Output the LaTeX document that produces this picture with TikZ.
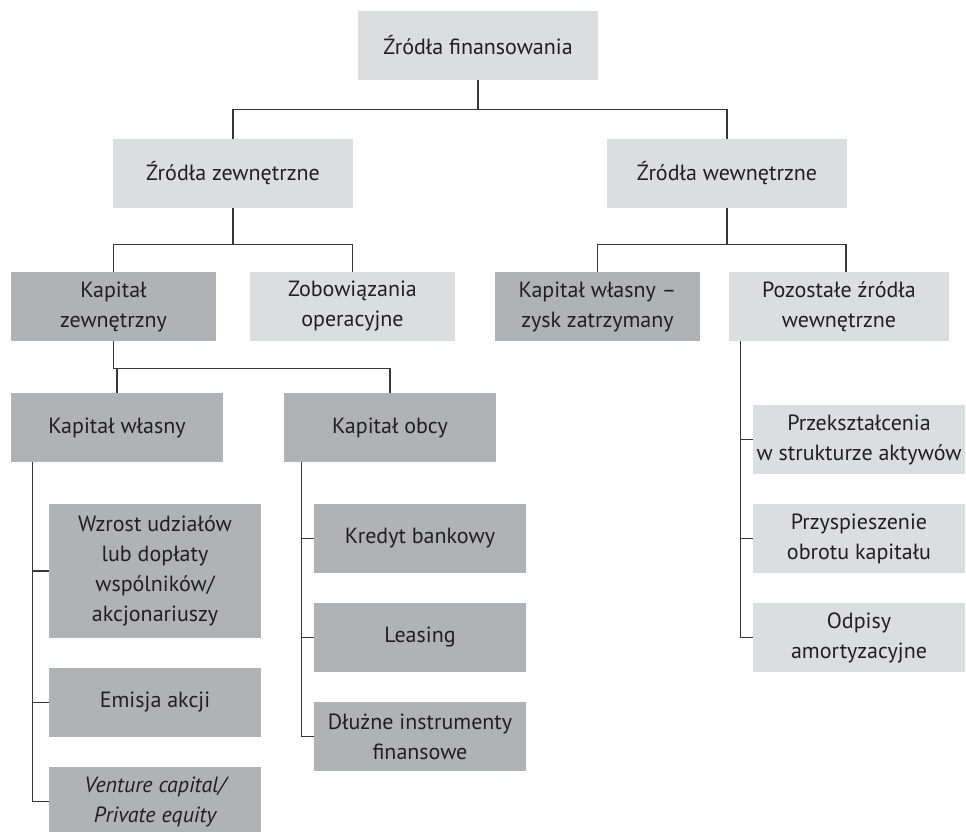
\documentclass[tikz,border=0pt]{standalone}
\usepackage{fontspec}
\setmainfont{PT Sans}
\usepackage{xcolor}
\usepackage{tikz}
\usetikzlibrary{calc}

\definecolor{boxlight}{RGB}{220,221,223}
\definecolor{boxdark}{RGB}{177,178,181}
\definecolor{inkgray}{RGB}{35,31,32}
\definecolor{wiregray}{RGB}{55,55,55}

\tikzset{
  srcbox/.style={inner sep=0pt, minimum height=51.75pt, align=center,
    text=inkgray, font=\fontsize{16.5}{22.5}\selectfont},
  lightbox/.style={srcbox, fill=boxlight},
  darkbox/.style={srcbox, fill=boxdark},
  wire/.style={draw=wiregray, line width=0.9pt}
}

\begin{document}
\begin{tikzpicture}[x=0.75pt,y=-0.75pt]
  \useasboundingbox (0,0) rectangle (966,831);
  % Root
  \node[lightbox, minimum width=180pt] (root) at (478,45.5) {Źródła finansowania};
  % Second level
  \node[lightbox, minimum width=180pt] (zewn) at (233,173.5) {Źródła zewnętrzne};
  \node[lightbox, minimum width=180pt] (wewn) at (727,173.5) {Źródła wewnętrzne};
  % Third level
  \node[darkbox, minimum width=153.75pt] (kapzew) at (113.5,306.5) {Kapitał\\zewnętrzny};
  \node[lightbox, minimum width=153.75pt] (zobow) at (352.5,306.5) {Zobowiązania\\operacyjne};
  \node[darkbox, minimum width=153.75pt] (zysk) at (597.5,306.5) {Kapitał własny –\\zysk zatrzymany};
  \node[lightbox, minimum width=165pt] (pozost) at (839,306.5) {Pozostałe źródła\\wewnętrzne};
  % Fourth level
  \node[darkbox, minimum width=159pt] (kapwl) at (117,427.5) {Kapitał własny};
  \node[darkbox, minimum width=159pt] (kapob) at (390,427.5) {Kapitał obcy};
  % Equity items
  \node[darkbox, minimum width=159pt, minimum height=100.5pt] (wzrost) at (155,571) {Wzrost udziałów\\lub dopłaty\\wspólników/\\akcjonariuszy};
  \node[darkbox, minimum width=159pt] (emisja) at (155,702.5) {Emisja akcji};
  \node[darkbox, minimum width=159pt] (venture) at (155,801.5) {\itshape Venture capital/\\\itshape Private equity};
  % Debt items
  \node[darkbox, minimum width=159pt] (kredyt) at (420,538.5) {Kredyt bankowy};
  \node[darkbox, minimum width=159pt] (leasing) at (420,637.5) {Leasing};
  \node[darkbox, minimum width=159pt] (dluzne) at (420,736.5) {Dłużne instrumenty\\finansowe};
  % Other internal items
  \node[lightbox, minimum width=159pt] (przeks) at (859,439.5) {Przekształcenia\\w strukturze aktywów};
  \node[lightbox, minimum width=159pt] (przysp) at (859,538.5) {Przyspieszenie\\obrotu kapitału};
  \node[lightbox, minimum width=159pt] (odpisy) at (859,637.5) {Odpisy\\amortyzacyjne};

  % Tree connectors
  \draw[wire] (root.south) -- ++(0,29) -| (zewn.north);
  \draw[wire] (root.south) -- ++(0,29) -| (wewn.north);
  \draw[wire] (zewn.south) -- ++(0,36) -| (kapzew.north);
  \draw[wire] (zewn.south) -- ++(0,36) -| (zobow.north);
  \draw[wire] (wewn.south) -- ++(0,36) -| (zysk.north);
  \draw[wire] (wewn.south) -- ++(0,36) -| ($(pozost.north)+(7,0)$);
  \draw[wire] (kapzew.south) -- ++(0,27) -| (kapwl.north);
  \draw[wire] (kapzew.south) -- ++(0,27) -| (kapob.north);
  % Side connectors
  \foreach \c in {wzrost,emisja,venture}
    \draw[wire] ($(kapwl.south west)+(22,0)$) |- (\c.west);
  \foreach \c in {kredyt,leasing,dluzne}
    \draw[wire] ($(kapob.south west)+(18,0)$) |- (\c.west);
  \foreach \c in {przeks,przysp,odpisy}
    \draw[wire] ($(pozost.south west)+(12,0)$) |- (\c.west);
\end{tikzpicture}
\end{document}
